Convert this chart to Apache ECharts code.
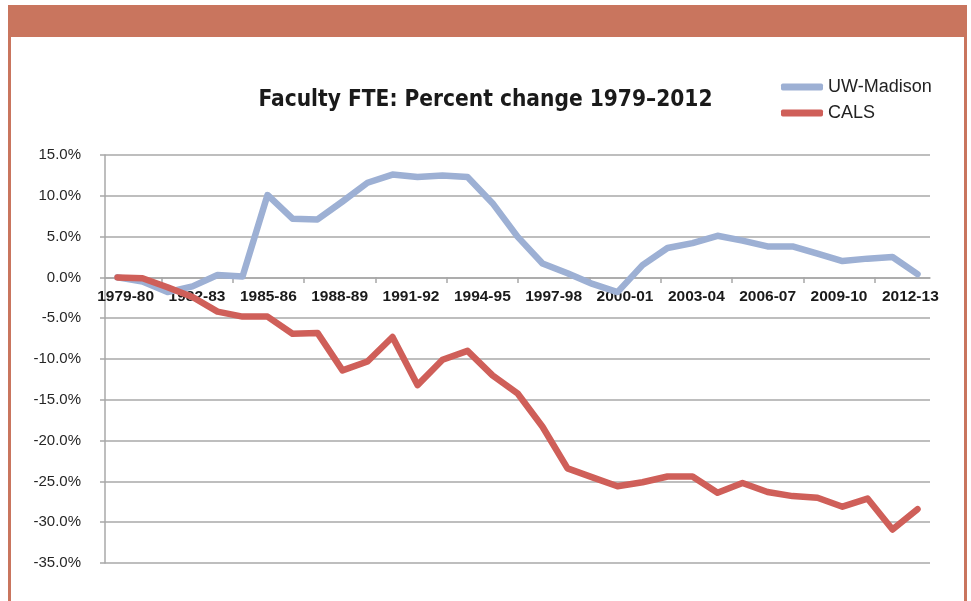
<!DOCTYPE html>
<html>
<head>
<meta charset="utf-8">
<script src="https://cdn.jsdelivr.net/npm/echarts@6/dist/echarts.min.js"></script>
<style>
html, body { margin: 0; padding: 0; background: #fff; }
#chart { width: 971px; height: 601px; }
</style>
</head>
<body>
<div id="chart"></div>
<script>
// school years plotted (one point each)
var years = ['1979-80', '1980-81', '1981-82', '1982-83', '1983-84', '1984-85', '1985-86', '1986-87',
	'1987-88', '1988-89', '1989-90', '1990-91', '1991-92', '1992-93', '1993-94', '1994-95',
	'1995-96', '1996-97', '1997-98', '1998-99', '1999-00', '2000-01', '2001-02', '2002-03',
	'2003-04', '2004-05', '2005-06', '2006-07', '2007-08', '2008-09', '2009-10', '2010-11', '2011-12'];
// labels printed under the axis
var tickLabels = ['1979-80', '1982-83', '1985-86', '1988-89', '1991-92', '1994-95',
	'1997-98', '2000-01', '2003-04', '2006-07', '2009-10', '2012-13'];
var uwMadison = [0.0, -0.5, -1.8, -1.1, 0.3, 0.1, 10.1, 7.2, 7.1, 9.3, 11.6, 12.6, 12.3, 12.5, 12.3, 9.1,
	5.0, 1.7, 0.5, -0.8, -1.8, 1.5, 3.6, 4.2, 5.1, 4.5, 3.8, 3.8, 2.9, 2.0, 2.3, 2.5, 0.4];
var cals = [0.0, -0.1, -1.2, -2.4, -4.2, -4.8, -4.8, -6.9, -6.8, -11.4, -10.3, -7.3, -13.2, -10.1, -9.0, -12.0,
	-14.2, -18.3, -23.4, -24.5, -25.6, -25.1, -24.4, -24.4, -26.4, -25.2, -26.3, -26.8, -27.0, -28.1, -27.1, -30.9, -28.4];

var blue = '#9DB0D4';
var red = '#CF5F59';
var gridGray = '#A8A8A8';
var orange = '#C9755E';
var sans = '"Liberation Sans", Arial, sans-serif';
var cond = '"DejaVu Sans Condensed", "Liberation Sans", sans-serif';

// tick positions between the label slots, label positions at slot centres
var tickPos = [];
var labelPos = [];
for (var k = 0; k < tickLabels.length; k++) {
	if (k > 0) tickPos.push(k);
	labelPos.push(k + 0.5);
}

var chart = echarts.init(document.getElementById('chart'));

var option = {
	animation: false,
	title: {
		text: 'Faculty FTE: Percent change 1979\u20132012',
		left: 'center',
		top: 84,
		textStyle: {
			fontFamily: cond,
			fontWeight: 'bold',
			fontSize: 22.5,
			color: '#1a1a1a'
		}
	},
	legend: {
		orient: 'vertical',
		left: 776,
		top: 73,
		itemWidth: 42,
		itemHeight: 7,
		itemGap: 8,
		icon: 'roundRect',
		textStyle: {
			fontFamily: sans,
			fontSize: 18,
			color: '#222'
		},
		data: ['UW-Madison', 'CALS']
	},
	graphic: [
		{ type: 'rect', shape: { x: 8, y: 5, width: 959, height: 32 }, style: { fill: orange }, silent: true },
		{ type: 'rect', shape: { x: 8, y: 37, width: 3, height: 564 }, style: { fill: orange }, silent: true },
		{ type: 'rect', shape: { x: 964, y: 37, width: 3, height: 564 }, style: { fill: orange }, silent: true }
	],
	grid: [
		{ left: 105, right: 41, top: 155, bottom: 38 },
		// only carries the printed year labels and their ticks
		{ left: 90, right: 25, top: 155, bottom: 324 }
	],
	xAxis: [
		{
			type: 'category',
			gridIndex: 0,
			data: years,
			boundaryGap: true,
			axisLine: { onZero: true, lineStyle: { color: gridGray, width: 1.5 } },
			axisTick: { show: false },
			axisLabel: { show: false }
		},
		{
			type: 'value',
			gridIndex: 1,
			min: 0,
			max: tickLabels.length,
			interval: 1,
			splitLine: { show: false },
			axisLine: { show: false },
			axisTick: {
				show: true,
				length: 6,
				customValues: tickPos,
				lineStyle: { color: gridGray, width: 1.5 }
			},
			axisLabel: {
				customValues: labelPos,
				margin: 12,
				fontFamily: sans,
				fontWeight: 'bold',
				fontSize: 15.5,
				color: '#1a1a1a',
				formatter: function(v) { return tickLabels[Math.floor(v)]; }
			}
		}
	],
	yAxis: [
		{
			type: 'value',
			gridIndex: 0,
			min: -35,
			max: 15,
			interval: 5,
			axisLine: { show: true, lineStyle: { color: gridGray, width: 1.5 } },
			axisTick: { show: true, length: 5, lineStyle: { color: gridGray, width: 1.5 } },
			splitLine: { lineStyle: { color: gridGray, width: 1.5 } },
			axisLabel: {
				margin: 24,
				fontFamily: sans,
				fontSize: 15,
				color: '#262626',
				formatter: function(v) { return v.toFixed(1) + '%'; }
			}
		},
		{
			type: 'value',
			gridIndex: 1,
			min: 0,
			max: 1,
			show: false
		}
	],
	series: [
		{
			name: 'UW-Madison',
			type: 'line',
			xAxisIndex: 0,
			yAxisIndex: 0,
			data: uwMadison,
			symbol: 'none',
			itemStyle: { color: blue },
			lineStyle: { color: blue, width: 6.5, cap: 'round', join: 'round' }
		},
		{
			name: 'CALS',
			type: 'line',
			xAxisIndex: 0,
			yAxisIndex: 0,
			data: cals,
			symbol: 'none',
			itemStyle: { color: red },
			lineStyle: { color: red, width: 6.5, cap: 'round', join: 'round' }
		}
	]
};

chart.setOption(option);
</script>
</body>
</html>
